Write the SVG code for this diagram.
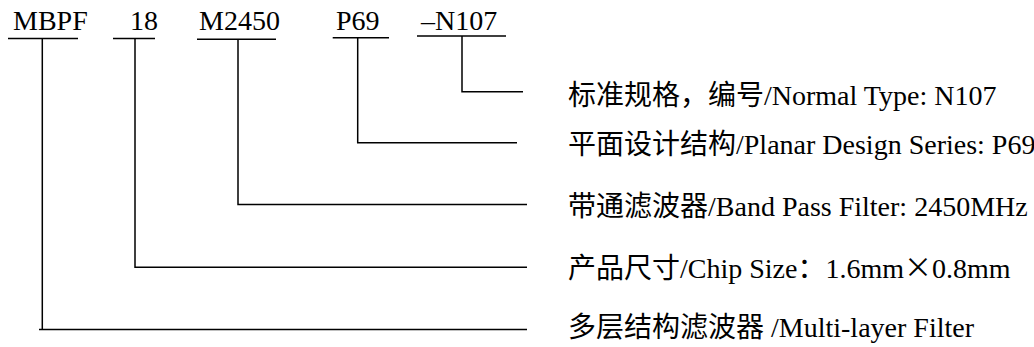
<svg xmlns="http://www.w3.org/2000/svg" width="1034" height="347" viewBox="0 0 1034 347">
<style>
  .ln { stroke: #000; stroke-width: 1.5; fill: none; stroke-linecap: butt; }
  .t { font-family: "Liberation Serif", "Noto Sans CJK SC", serif; font-size: 28px; fill: #000; }
  .cjk { font-family: "Noto Sans CJK SC", sans-serif; }
</style>
<rect width="1034" height="347" fill="#fff"/>
<g id="code">
  <text class="t" x="13" y="30">MBPF</text>
  <text class="t" x="130" y="30">18</text>
  <text class="t" x="199" y="30">M2450</text>
  <text class="t" x="336" y="30">P69</text>
  <text class="t" x="421" y="30">–N107</text>
</g>
<g id="connectors">
  <path class="ln" d="M8,38.5 H78 M42.3,38.5 V329.5 M39,329.5 H527"/>
  <path class="ln" d="M113,38.5 H155 M135,38.5 V267.3 H527"/>
  <path class="ln" d="M197,39.3 H276 M238,39.3 V204.5 H527"/>
  <path class="ln" d="M332.7,37.7 H389 M357.7,37.7 V142.7 H517"/>
  <path class="ln" d="M417,36 H506 M462,36 V91.7 H523"/>
</g>
<g id="label-n107">
  <text class="t" x="568" y="105"><tspan class="cjk">标准规格，编号</tspan>/Normal Type: N107</text>
</g>
<g id="label-p69">
  <text class="t" x="568" y="154"><tspan class="cjk">平面设计结构</tspan>/Planar Design Series: P69</text>
</g>
<g id="label-m2450">
  <text class="t" x="568" y="216"><tspan class="cjk">带通滤波器</tspan>/Band Pass Filter: 2450MHz</text>
</g>
<g id="label-18">
  <text class="t" x="568" y="278"><tspan class="cjk">产品尺寸</tspan>/Chip Size<tspan class="cjk">：</tspan>1.6mm<tspan class="cjk">×</tspan>0.8mm</text>
</g>
<g id="label-mbpf">
  <text class="t" x="568" y="337"><tspan class="cjk">多层结构滤波器</tspan> /Multi-layer Filter</text>
</g>
</svg>
